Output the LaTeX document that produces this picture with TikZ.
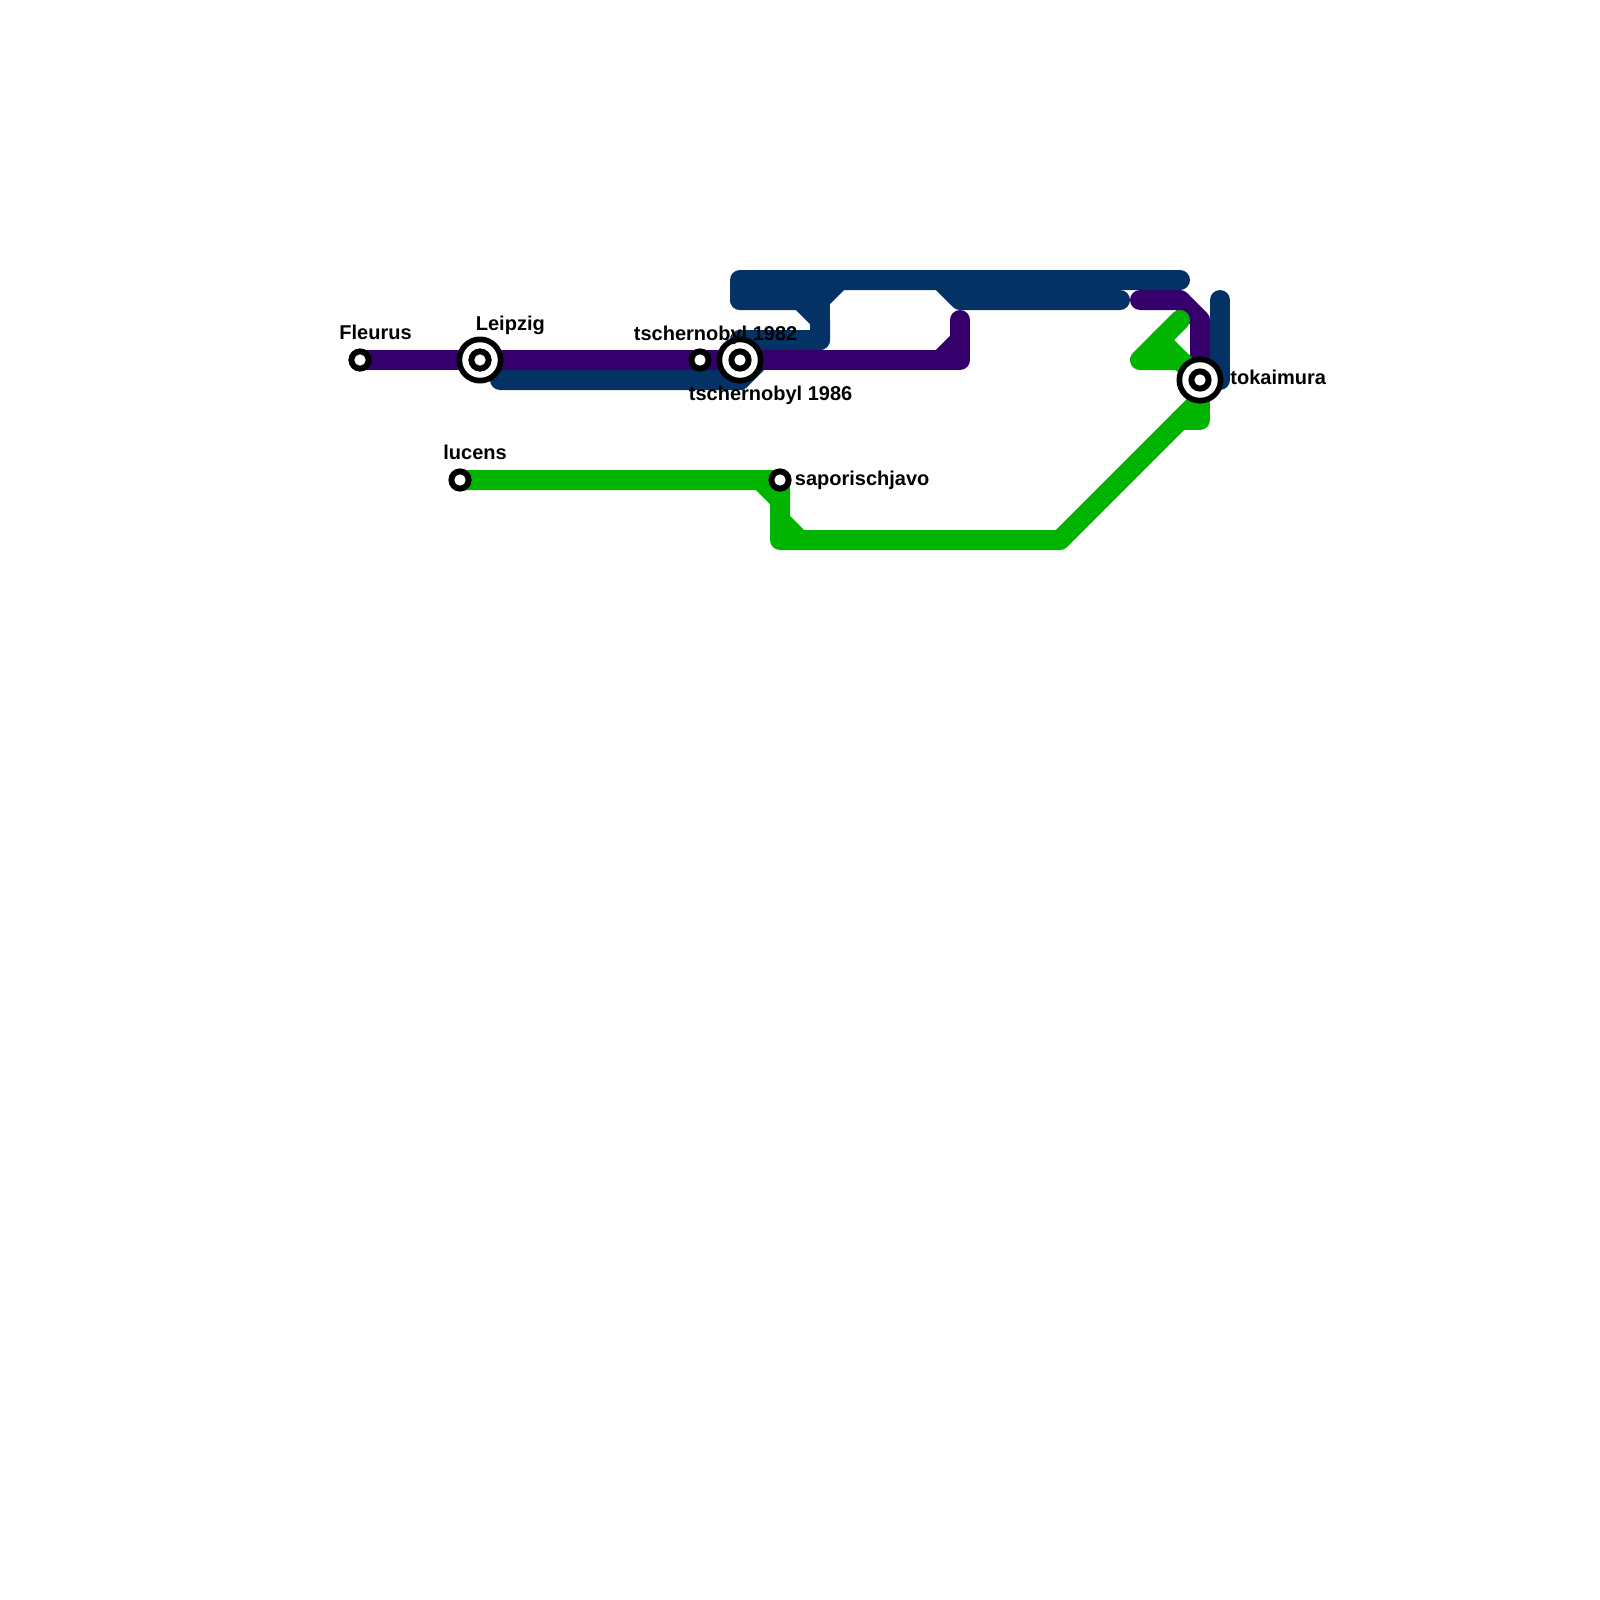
\documentclass[tikz,border=0pt]{standalone}
\usepackage{fontspec}
\setmainfont{Liberation Sans}
\definecolor{linepurple}{RGB}{54,0,108}
\definecolor{linenavy}{RGB}{5,50,100}
\definecolor{linegreen}{RGB}{0,180,0}
\tikzset{
  metro/.style={line width=10pt,line join=round,line cap=round},
  purpleline/.style={metro,draw=linepurple},
  navyline/.style={metro,draw=linenavy},
  greenline/.style={metro,draw=linegreen},
  disc/.style={circle,draw=none,outer sep=0pt,inner sep=0pt},
  stationsmall/.style={disc,fill=black,minimum size=11.65pt},
  stationhole/.style={disc,fill=white,minimum size=5.65pt},
  stationring/.style={disc,fill=black,minimum size=23.5pt},
  stationringhole/.style={disc,fill=white,minimum size=17.75pt},
  stationlabel/.style={anchor=base west,inner sep=0pt,font=\fontsize{10pt}{12pt}\selectfont\bfseries,text=black}
}
\begin{document}
\begin{tikzpicture}[x=0.5pt,y=-0.5pt]
\useasboundingbox (0,0) rectangle (1600,1600);
% station positions
\coordinate (pFleurus) at (360,360);
\coordinate (pLeipzig) at (480,360);
\coordinate (pTa) at (700,360);
\coordinate (pTb) at (740,360);
\coordinate (pLucens) at (460,480);
\coordinate (pSapor) at (780,480);
\coordinate (pToka) at (1200,380);
% way points: purple
\coordinate (a1) at (960,360);
\coordinate (a2) at (960,320);
\coordinate (a3) at (960,340);
\coordinate (a4) at (940,360);
\coordinate (a5) at (1140,300);
\coordinate (a6) at (1180,300);
\coordinate (a7) at (1200,320);
% way points: navy
\coordinate (b1) at (1180,280);
\coordinate (b2) at (740,280);
\coordinate (b3) at (740,300);
\coordinate (b4) at (800,300);
\coordinate (b5) at (820,320);
\coordinate (b6) at (820,340);
\coordinate (b7) at (780,340);
\coordinate (b8) at (740,380);
\coordinate (b9) at (500,380);
\coordinate (b10) at (820,300);
\coordinate (b11) at (840,280);
\coordinate (b12) at (940,280);
\coordinate (b13) at (960,300);
\coordinate (b14) at (1120,300);
\coordinate (b15) at (1220,300);
\coordinate (b16) at (1220,380);
\coordinate (b17) at (740,340);
% way points: green
\coordinate (c1) at (760,480);
\coordinate (c2) at (780,500);
\coordinate (c3) at (780,540);
\coordinate (c4) at (1060,540);
\coordinate (c5) at (1200,400);
\coordinate (c6) at (1200,420);
\coordinate (c7) at (1180,420);
\coordinate (c8) at (780,520);
\coordinate (c9) at (800,540);
\coordinate (c10) at (1180,320);
\coordinate (c11) at (1140,360);
\coordinate (c12) at (1180,360);
\coordinate (c13) at (1160,340);
% navy lines
\draw[navyline] (b1) -- (b2) -- (b3) -- (b4) -- (b5) -- (b6) -- (b7) -- (b8) -- (b9);
\draw[navyline] (b3) -- (b10) -- (b6);
\draw[navyline] (b10) -- (b11);
\draw[navyline] (b7) -- (b17);
\draw[navyline] (b17) -- (b8);
\draw[navyline] (b12) -- (b13) -- (b14);
\draw[navyline] (b15) -- (b16);
% purple lines
\draw[purpleline] (pFleurus) -- (pLeipzig) -- (pTa) -- (pTb) -- (a1) -- (a2);
\draw[purpleline] (a3) -- (a4);
\draw[purpleline] (a5) -- (a6) -- (a7) -- (pToka);
% green lines
\draw[greenline] (pLucens) -- (pSapor) -- (c3) -- (c4) -- (c5) -- (pToka);
\draw[greenline] (c1) -- (c2);
\draw[greenline] (c8) -- (c9);
\draw[greenline] (c5) -- (c6) -- (c7);
\draw[greenline] (c10) -- (c11) -- (c12) -- (pToka);
\draw[greenline] (c13) -- (pToka);
% stations
\node[stationsmall] (sFleurus) at (pFleurus) {};
\node[stationhole] (hFleurus) at (pFleurus) {};
\node[stationring] (rLeipzig) at (pLeipzig) {};
\node[stationringhole] (wLeipzig) at (pLeipzig) {};
\node[stationsmall] (sLeipzig) at (pLeipzig) {};
\node[stationhole] (hLeipzig) at (pLeipzig) {};
\node[stationsmall] (sTa) at (pTa) {};
\node[stationhole] (hTa) at (pTa) {};
\node[stationring] (rTb) at (pTb) {};
\node[stationringhole] (wTb) at (pTb) {};
\node[stationsmall] (sTb) at (pTb) {};
\node[stationhole] (hTb) at (pTb) {};
\node[stationsmall] (sLucens) at (pLucens) {};
\node[stationhole] (hLucens) at (pLucens) {};
\node[stationsmall] (sSapor) at (pSapor) {};
\node[stationhole] (hSapor) at (pSapor) {};
\node[stationring] (rToka) at (pToka) {};
\node[stationringhole] (wToka) at (pToka) {};
\node[stationsmall] (sToka) at (pToka) {};
\node[stationhole] (hToka) at (pToka) {};
% labels
\node[stationlabel] (lFleurus) at (339,339) {Fleurus};
\node[stationlabel] (lLeipzig) at (475.5,330) {Leipzig};
\node[stationlabel] (lLucens) at (443,459) {lucens};
\node[stationlabel] (lTa) at (633.5,340) {tschernobyl 1982};
\node[stationlabel] (lTb) at (688.5,400) {tschernobyl 1986};
\node[stationlabel] (lSapor) at (794.5,485) {saporischjavo};
\node[stationlabel] (lToka) at (1230,384) {tokaimura};
\end{tikzpicture}
\end{document}
